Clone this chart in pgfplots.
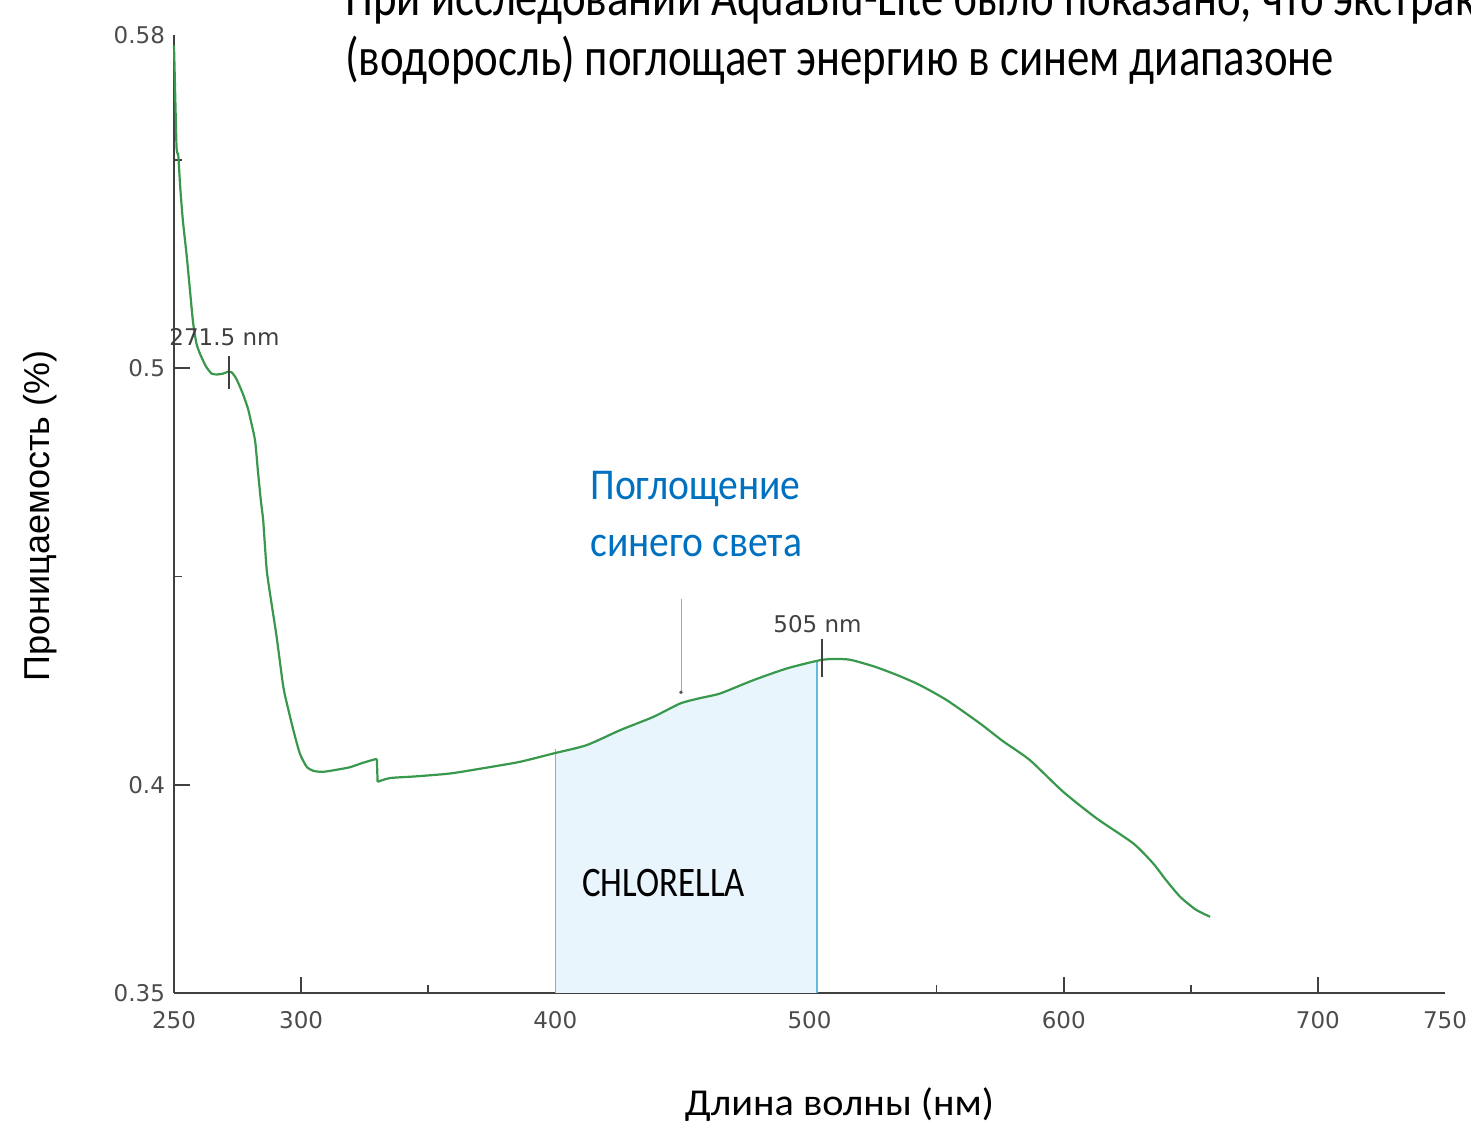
\documentclass[border=0pt]{standalone}
\usepackage{fontspec}
\usepackage{pgfplots}
\pgfplotsset{compat=1.18}
\setmainfont{DejaVu Sans}
\newfontfamily\calib[FakeStretch=0.83]{Carlito}
\newfontfamily\calibb[FakeStretch=0.9]{Carlito}
\newfontfamily\calibx[FakeStretch=1.06]{Carlito}
\newfontfamily\arial{Liberation Sans}
\definecolor{curve}{RGB}{56,152,76}
\definecolor{shade}{RGB}{232,245,252}
\definecolor{shadeline}{RGB}{100,185,225}
\definecolor{axgray}{RGB}{64,64,64}
\definecolor{lblue}{RGB}{0,112,192}
\begin{document}
\begin{tikzpicture}
\useasboundingbox (0,0) rectangle (735.5pt,563.5pt);
\begin{axis}[
  at={(87pt,67pt)}, anchor=south west,
  scale only axis, width=635.5pt, height=479pt,
  xmin=250, xmax=750, ymin=0.35, ymax=0.58,
  axis x line=bottom, axis y line=left,
  axis line style={axgray, line width=1.1pt, -},
  xtick={300,400,500,600,700},
  xticklabels={300,400,500,600,700},
  minor xtick={350,450,550,650},
  extra x ticks={250,750},
  extra x tick labels={250,750},
  extra x tick style={major tick length=0pt},
  ytick={0.4,0.5},
  yticklabels={0.4,0.5},
  minor ytick={0.45,0.55},
  extra y ticks={0.35,0.58},
  extra y tick labels={0.35,0.58},
  extra y tick style={major tick length=0pt},
  tick align=inside,
  major tick length=8pt, minor tick length=4pt,
  tick style={axgray, line width=0.8pt},
  ticklabel style={font=\fontsize{11.5}{12}\selectfont, text=black!70},
  xticklabel style={yshift=-5.5pt},
  yticklabel style={xshift=-1pt},
  /pgf/number format/assume math mode=true,
  clip=false,
]
\addplot[fill=shade, draw=none] coordinates {
(400,0.35) (400,0.4077) (406,0.4085) (412.3,0.4095) (419,0.4112) (425.5,0.4131) (432,0.4147) (438.6,0.4163) (444,0.4180) (449.1,0.4195)
(457,0.4208) (464.8,0.4219) (471,0.4234) (477.9,0.4251) (484,0.4265) (491,0.4279) (497,0.4289) (503,0.4297) (503,0.35)};
\addplot[shadeline, line width=0.8pt] coordinates {(400,0.35) (400,0.4085)};
\addplot[shadeline, line width=0.8pt] coordinates {(503,0.35) (503,0.4300)};
\addplot[curve, line width=1.1pt, smooth, tension=0.35] table {
250.0 0.5775
250.3 0.570
250.7 0.560
251.0 0.553
251.4 0.5515
251.7 0.551
252.5 0.543
253.5 0.5354
255.0 0.527
256.3 0.5186
257.5 0.511
258.8 0.506
260.2 0.5035
262.5 0.5005
264.8 0.4987
267.0 0.4985
269.3 0.4987
271.5 0.4992
272.7 0.4990
274.5 0.4975
277.0 0.494
279.0 0.4905
280.0 0.488
281.9 0.4826
283.0 0.4754
284.2 0.468
285.1 0.4634
286.5 0.4514
288.5 0.4430
290.4 0.4354
293.0 0.4235
295.0 0.418
297.0 0.413
299.5 0.4075
302.2 0.4043
305.0 0.4033
308.7 0.4031
314.0 0.4036
319.2 0.4042
324.0 0.4052
328.4 0.4060
329.8 0.4062
};
\addplot[curve, line width=1.1pt] coordinates {(329.8,0.4062) (330.1,0.4007)};
\addplot[curve, line width=1.1pt, smooth, tension=0.4] table {
330.1 0.4007
335.0 0.4016
345.0 0.4020
358.6 0.4027
372.0 0.4040
386.1 0.4055
399.2 0.4075
412.3 0.4095
425.5 0.4131
438.6 0.4163
449.1 0.4195
457.0 0.4208
464.8 0.4219
477.9 0.4251
491.0 0.4279
504.1 0.4299
510.0 0.4302
516.0 0.4300
523.8 0.4287
527.7 0.4279
535.0 0.4262
543.5 0.4239
554.0 0.4203
567.1 0.4147
576.0 0.4105
586.7 0.4059
599.8 0.3983
613.0 0.3919
627.4 0.3859
635.2 0.3811
640.0 0.3773
645.8 0.3731
652.0 0.3700
657.6 0.3683
};
\addplot[axgray, line width=1pt] coordinates {(271.5,0.4951) (271.5,0.5030)};
\addplot[axgray, line width=1pt] coordinates {(504.9,0.4258) (504.9,0.4351)};
\addplot[gray!70, line width=0.5pt] coordinates {(449.45,0.4447) (449.45,0.4222)};
\addplot[only marks, mark=*, mark size=0.7pt, gray!70!black] coordinates {(449.45,0.4222)};
\end{axis}
\begin{scope}[x=0.5pt,y=-0.5pt,shift={(0pt,563.5pt)}]
\begin{scope}
\clip (0,0) rectangle (1471,1127);
\node[anchor=base west, inner sep=0, font=\calib\fontsize{27}{30}\selectfont] at (345,16) {При исследовании AquaBlu-Lite было показано, что экстракт};
\end{scope}
\node[anchor=base west, inner sep=0, font=\calib\fontsize{27}{30}\selectfont] at (345,76) {(водоросль) поглощает энергию в синем диапазоне};
\node[anchor=base, inner sep=0, font=\calibx\fontsize{19}{20}\selectfont] at (839.5,1116) {Длина волны (нм)};
\node[anchor=base west, inner sep=0, text=lblue, font=\calibb\fontsize{22}{24}\selectfont] at (590,500) {Поглощение};
\node[anchor=base west, inner sep=0, text=lblue, font=\calibb\fontsize{22}{24}\selectfont] at (590,557) {синего света};
\node[anchor=base west, inner sep=0, font=\calib\fontsize{21}{22}\selectfont] at (582,897) {CHLORELLA};
\node[anchor=base west, inner sep=0, text=black!75, font=\fontsize{11.5}{12}\selectfont] at (169,346) {271.5 nm};
\node[anchor=base west, inner sep=0, text=black!75, font=\fontsize{11.5}{12}\selectfont] at (773,633) {505 nm};
\node[rotate=90, inner sep=0, font=\arial\fontsize{18}{20}\selectfont] at (40,516) {Проницаемость (\%)};
\end{scope}
\end{tikzpicture}
\end{document}
